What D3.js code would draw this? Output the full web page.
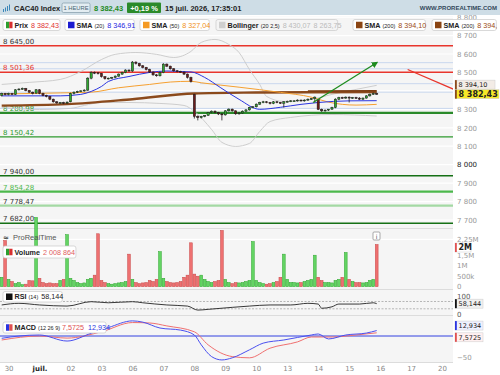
<!DOCTYPE html>
<html>
<head>
<meta charset="utf-8">
<script src="https://cdn.jsdelivr.net/npm/d3@7"></script>
<style>
body { margin: 0; background: #fff; }
svg { display: block; font-family: "DejaVu Sans", sans-serif; }
.hdr, .lg { font-family: "Liberation Sans", Arial, sans-serif; }
</style>
</head>
<body>
<div id="chart"></div>
<script>
// ---- data ----
// hourly bars, 9 a day; index 0-1 = 29 juin, then 30 juin .. 15 juil.
var opens = [8376, 8386,
  8380, 8386, 8381, 8406, 8410, 8413, 8402, 8393, 8388,
  8406, 8386, 8375, 8370, 8355, 8341, 8335, 8337, 8334,
  8341, 8386, 8393, 8397, 8400, 8404, 8469, 8500, 8498,
  8495, 8477, 8466, 8469, 8473, 8480, 8491, 8500, 8513,
  8508, 8556, 8549, 8536, 8527, 8516, 8502, 8487, 8482,
  8500, 8545, 8534, 8520, 8509, 8505, 8502, 8491, 8473,
  8380, 8262, 8255, 8262, 8268, 8283, 8290, 8282, 8275,
  8270, 8292, 8301, 8292, 8276, 8280, 8290, 8297, 8310,
  8314, 8328, 8337, 8341, 8337, 8332, 8341, 8337, 8333,
  8341, 8343, 8346, 8346, 8350, 8346, 8350, 8355, 8358,
  8352, 8300, 8292, 8296, 8301, 8310, 8355, 8364, 8361,
  8366, 8361, 8364, 8361, 8355, 8361, 8373, 8382, 8386];
var highs = [8390, 8389,
  8390, 8389, 8409, 8414, 8418, 8416, 8405, 8396, 8410,
  8409, 8390, 8379, 8373, 8358, 8344, 8340, 8341, 8343,
  8390, 8397, 8401, 8404, 8409, 8474, 8506, 8505, 8502,
  8497, 8480, 8472, 8476, 8484, 8495, 8504, 8517, 8516,
  8562, 8560, 8552, 8540, 8530, 8520, 8505, 8491, 8504,
  8550, 8549, 8537, 8523, 8513, 8509, 8505, 8494, 8477,
  8384, 8267, 8265, 8269, 8286, 8294, 8294, 8286, 8279,
  8296, 8305, 8304, 8294, 8284, 8294, 8301, 8314, 8318,
  8332, 8341, 8346, 8345, 8340, 8345, 8345, 8340, 8345,
  8347, 8350, 8350, 8354, 8353, 8354, 8359, 8362, 8370,
  8356, 8304, 8299, 8300, 8314, 8360, 8368, 8368, 8370,
  8370, 8367, 8368, 8366, 8364, 8377, 8386, 8391, 8390];
var lows = [8370, 8376,
  8376, 8377, 8378, 8402, 8406, 8398, 8389, 8381, 8384,
  8382, 8371, 8365, 8350, 8336, 8330, 8331, 8328, 8330,
  8338, 8381, 8389, 8393, 8396, 8400, 8463, 8491, 8489,
  8472, 8461, 8462, 8465, 8469, 8476, 8487, 8496, 8503,
  8503, 8543, 8531, 8522, 8511, 8497, 8482, 8477, 8478,
  8496, 8529, 8515, 8504, 8500, 8497, 8486, 8467, 8445,
  8250, 8240, 8250, 8257, 8264, 8279, 8278, 8269, 8240,
  8266, 8288, 8287, 8270, 8271, 8276, 8286, 8293, 8306,
  8310, 8324, 8333, 8333, 8327, 8328, 8333, 8329, 8310,
  8337, 8339, 8342, 8342, 8342, 8342, 8346, 8351, 8337,
  8296, 8286, 8287, 8291, 8297, 8306, 8350, 8357, 8357,
  8337, 8357, 8356, 8351, 8351, 8358, 8369, 8378, 8379];
var closes = [8386, 8380,
  8386, 8381, 8406, 8410, 8413, 8402, 8393, 8386, 8406,
  8386, 8375, 8370, 8355, 8341, 8335, 8337, 8334, 8339,
  8386, 8393, 8397, 8400, 8404, 8469, 8500, 8498, 8495,
  8477, 8466, 8469, 8473, 8480, 8491, 8500, 8513, 8508,
  8556, 8549, 8536, 8527, 8516, 8502, 8487, 8482, 8500,
  8545, 8534, 8520, 8509, 8505, 8502, 8491, 8473, 8451,
  8262, 8255, 8262, 8268, 8283, 8290, 8282, 8275, 8270,
  8292, 8301, 8292, 8276, 8280, 8290, 8297, 8310, 8314,
  8328, 8337, 8341, 8337, 8332, 8341, 8337, 8333, 8341,
  8343, 8346, 8346, 8350, 8346, 8350, 8355, 8358, 8366,
  8300, 8292, 8296, 8301, 8310, 8355, 8364, 8361, 8366,
  8361, 8364, 8361, 8355, 8361, 8373, 8382, 8386, 8382.43];
// volume in millions
var volumes = [0.45, 2.2,
  0.35, 0.25, 0.15, 0.2, 0.1, 0.12, 0.3, 0.28, 3.3,
  0.4, 0.2, 0.15, 0.18, 0.15, 0.15, 0.3, 0.35, 2.48,
  0.4, 0.3, 0.2, 0.15, 0.18, 0.35, 0.4, 0.55, 2.52,
  0.3, 0.2, 0.15, 0.12, 0.15, 0.18, 0.2, 0.25, 1.55,
  0.35, 0.2, 0.15, 0.18, 0.2, 0.3, 0.25, 0.35, 1.67,
  0.4, 0.25, 0.2, 0.18, 0.2, 0.25, 0.45, 0.55, 2.09,
  0.6, 0.5, 0.55, 0.35, 0.25, 0.2, 0.25, 0.3, 2.68,
  0.35, 0.2, 0.15, 0.2, 0.18, 0.2, 0.25, 0.3, 2.15,
  0.3, 0.2, 0.15, 0.12, 0.15, 0.2, 0.25, 0.45, 1.55,
  0.35, 0.2, 0.2, 0.18, 0.2, 0.25, 0.3, 0.35, 1.5,
  0.45, 0.3, 0.2, 0.2, 0.18, 0.3, 0.35, 0.45, 1.63,
  0.35, 0.25, 0.2, 0.2, 0.18, 0.2, 0.3, 0.35, 2.008864];

// indicator lines as [bar index, value] points
var sma20 = [[0,8373],[17,8373],[23,8381],[26,8397],[29,8424],[31,8451],[37,8478],[43,8500],[48,8508],[52,8505],[55,8503],[59,8473],[63.5,8419],[69,8354],[75,8300],[81,8311],[87,8327],[92,8337],[101,8346],[109,8346.91]];
var sma50 = [[0,8383],[17,8389],[26,8393],[34,8417],[43,8435],[49,8448],[55,8452],[58,8444],[69,8420],[81,8392],[90,8366],[95,8339],[103,8323],[109,8327.04]];
var sma200 = [[0,8320],[19,8328],[38,8355],[56,8386],[74,8391],[89,8393],[109,8394.1]];
var sma200b = [[89,8399],[109,8401]];
var bollUp = [[0,8435],[8,8446],[17,8462],[23,8505],[29,8570],[33,8598],[39,8608],[45,8598],[50,8581],[55,8614],[58,8663],[62,8679],[66,8652],[69,8608],[72,8516],[75,8435],[77,8370],[82,8343],[90,8354],[96,8381],[103,8408],[109,8430.07]];
var bollLo = [[0,8310],[11,8299],[20,8305],[24,8321],[29,8337],[37,8337],[46,8332],[53,8321],[56,8289],[61,8191],[64,8121],[68,8099],[72,8115],[75,8180],[78,8234],[84,8256],[96,8272],[109,8263.75]];
var rsi = [[0,51],[5,60],[11,51],[19,45],[26,69],[31,63],[38,69],[41,63],[48,51],[54,45],[57,23],[60,27],[67,38],[72,45],[78,51],[84,51],[89,60],[92,56],[93,33],[96,41],[98,56],[104,56],[108,63],[109,58.144]];
var macd = [[0,-5.5],[5,0],[11,2.4],[19,-12],[26,6.5],[31,20],[38,36],[41,33],[46,19],[52,14],[56,2.4],[58,-21],[61,-49],[64,-57],[67,-52],[72,-33],[76,-17],[82,-9.5],[90,2.4],[92,4.8],[95,-7],[100,2.4],[106,7],[109,12.934]];
var signal = [[0,-9.5],[11,0],[19,-5],[29,10],[38,32],[43,31],[48,24],[56,10],[60,-21],[67,-49],[72,-52],[78,-29],[86,-14],[90,-2.4],[96,-2.4],[103,2.4],[109,7.5725]];

// horizontal levels drawn on the chart
var levelValues = [8810, 8645, 8501.36, 8280.98, 8150.42, 7940, 7854.28, 7778.47, 7682];
var levelColors = ["#e8352c", "#e8352c", "#e8352c", "#2a8a2a", "#2e9a2e", "#157015", "#4cb84c", "#a3d9a3", "#157015"];
var levelLabelColors = [null, "#333", "#e8352c", "#2e9a2e", "#2e9a2e", "#333", "#4cb84c", "#333", "#333"];
var paleLevels = [8553, 8520, 8439, 8393, 8305];
var greenArrow = [[90.5, 8337], [109.1, 8554]];
var redLine = [[118, 8516], [135, 8380]];

var dayStart = [2, 11, 20, 29, 38, 47, 56, 65, 74, 83, 92, 101, 110, 119, 128];
var dayLabels = ["30", "juil.", "02", "03", "06", "07", "08", "09", "10", "13", "14", "15", "16", "17", "20"];
var priceTicks = [7700, 7800, 7900, 8000, 8100, 8200, 8300, 8500, 8600, 8700, 8800];
var volTicks = [0, 500000, 1000000, 1500000, 2250000];
var volTickLabels = ["0", "500k", "1M", "1,5M", "2,25M"];

// ---- setup ----
var W = 500, H = 375, plotR = 453;
var loc = d3.formatLocale({decimal: ",", thousands: "\u00a0", grouping: [3], currency: ["", ""]});
var fInt = loc.format(","), f2 = loc.format(",.2f");

var x = d3.scaleLinear().domain([0, 109]).range([1.7, 376.7]);
var yP = d3.scaleLinear().domain([7700, 8600]).range([220, 54]);
var yV = d3.scaleLinear().domain([0, 2000000]).range([286.7, 244.7]);
var yR = d3.scaleLinear().domain([0, 100]).range([314.3, 296]);
var yM = d3.scaleLinear().domain([-50, 0]).range([357, 336]);

var bars = closes.map(function(c, i) {
  return {i: i, o: opens[i], h: highs[i], l: lows[i], c: c, v: volumes[i] * 1e6, up: c >= opens[i]};
});

var svg = d3.select("#chart").append("svg").attr("width", W).attr("height", H);
var defs = svg.append("defs");
defs.append("clipPath").attr("id", "cpPrice").append("rect").attr("x", 0).attr("y", 16).attr("width", plotR).attr("height", 212);
defs.append("clipPath").attr("id", "cpPlot").append("rect").attr("x", 0).attr("y", 0).attr("width", plotR).attr("height", 362);
defs.append("clipPath").attr("id", "cpAll").append("rect").attr("x", 0).attr("y", 0).attr("width", W).attr("height", H);
defs.append("marker").attr("id", "arrowG").attr("viewBox", "0 0 10 10").attr("refX", 8).attr("refY", 5)
  .attr("markerWidth", 5).attr("markerHeight", 5).attr("orient", "auto")
  .append("path").attr("d", "M0,0L10,5L0,10z").attr("fill", "#1e8c1e");

// panel backgrounds
var panels = [[16, 228], [229, 289], [290, 315], [316, 362]];
svg.selectAll(".pbg").data(panels).enter().append("rect")
  .attr("x", 0).attr("y", function(d) { return d[0]; })
  .attr("width", plotR).attr("height", function(d) { return d[1] - d[0]; })
  .attr("fill", "#f5f5f5");
svg.selectAll(".psep").data([228.5, 289.5, 315.5, 362.5]).enter().append("line")
  .attr("x1", 0).attr("x2", plotR).attr("y1", function(d) { return d; }).attr("y2", function(d) { return d; })
  .attr("stroke", "#dcdcdc").attr("stroke-width", 1);

// white grid lines
var grid = svg.append("g").attr("clip-path", "url(#cpPrice)");
grid.selectAll("line").data(priceTicks.concat([8400])).enter().append("line")
  .attr("x1", 0).attr("x2", plotR)
  .attr("y1", function(d) { return yP(d); }).attr("y2", function(d) { return yP(d); })
  .attr("stroke", "#fff").attr("stroke-width", 1.2);
svg.append("line").attr("x1", 0).attr("x2", plotR).attr("y1", yV(2250000)).attr("y2", yV(2250000))
  .attr("stroke", "#fff").attr("stroke-width", 1.2);

// ---- price panel ----
var price = svg.append("g").attr("clip-path", "url(#cpPrice)");

price.selectAll(".pale").data(paleLevels).enter().append("line")
  .attr("x1", function(d) { return d === 8439 ? 200 : 0; }).attr("x2", plotR)
  .attr("y1", function(d) { return yP(d); }).attr("y2", function(d) { return yP(d); })
  .attr("stroke", "#c9d7ee").attr("stroke-width", 1);

price.selectAll(".lvl").data(levelValues).enter().append("line")
  .attr("x1", 0).attr("x2", plotR)
  .attr("y1", function(d) { return yP(d); }).attr("y2", function(d) { return yP(d); })
  .attr("stroke", function(d, i) { return levelColors[i]; })
  .attr("stroke-width", function(d, i) { return (i === 3 || i === 6 || i === 7) ? 2.2 : 1.4; });

price.selectAll(".lvlt").data(levelValues).enter().filter(function(d, i) { return levelLabelColors[i]; })
  .append("text")
  .attr("x", 3).attr("y", function(d) { return yP(d) - 2; })
  .attr("font-size", 7).attr("fill", function(d) { return levelLabelColors[levelValues.indexOf(d)]; })
  .text(function(d) { return f2(d); });

var line = d3.line().x(function(d) { return x(d[0]); }).y(function(d) { return yP(d[1]); }).curve(d3.curveMonotoneX);

price.append("path").attr("d", line(bollUp)).attr("fill", "none").attr("stroke", "#c8c8c8").attr("stroke-width", 0.9);
price.append("path").attr("d", line(bollLo)).attr("fill", "none").attr("stroke", "#c8c8c8").attr("stroke-width", 0.9);
price.append("path").attr("d", line(sma200)).attr("fill", "none").attr("stroke", "#8b4a1c").attr("stroke-width", 2.4);
price.append("path").attr("d", line(sma200b)).attr("fill", "none").attr("stroke", "#7a3c12").attr("stroke-width", 1.6);
price.append("path").attr("d", line(sma50)).attr("fill", "none").attr("stroke", "#f5a030").attr("stroke-width", 1);
price.append("path").attr("d", line(sma20)).attr("fill", "none").attr("stroke", "#2b35e0").attr("stroke-width", 1);

// candles
var cg = price.selectAll(".candle").data(bars).enter().append("g");
cg.append("line")
  .attr("x1", function(d) { return x(d.i); }).attr("x2", function(d) { return x(d.i); })
  .attr("y1", function(d) { return yP(d.h); }).attr("y2", function(d) { return yP(d.l); })
  .attr("stroke", "#1a1a1a").attr("stroke-width", 0.8);
cg.append("rect")
  .attr("x", function(d) { return x(d.i) - 1.1; }).attr("width", 2.2)
  .attr("y", function(d) { return yP(Math.max(d.o, d.c)); })
  .attr("height", function(d) { return Math.max(0.8, Math.abs(yP(d.o) - yP(d.c))); })
  .attr("fill", function(d) { return d.up ? "#30a830" : "#6a1c1c"; })
  .attr("stroke", "#1a1a1a").attr("stroke-width", 0.5);

// drawings
var dline = d3.line().x(function(d) { return x(d[0]); }).y(function(d) { return yP(d[1]); });
price.append("path").attr("d", dline(greenArrow)).attr("stroke", "#1e8c1e").attr("stroke-width", 1.3)
  .attr("fill", "none").attr("marker-end", "url(#arrowG)");
price.append("path").attr("d", dline(redLine))
  .attr("stroke", "#e8352c").attr("stroke-width", 1.3).attr("fill", "none");

// ---- volume ----
var vol = svg.append("g");
vol.selectAll("rect").data(bars).enter().append("rect")
  .attr("x", function(d) { return x(d.i) - 1.4; }).attr("width", 2.8)
  .attr("y", function(d) { return yV(d.v); })
  .attr("height", function(d) { return yV(0) - yV(d.v); })
  .attr("fill", function(d) { return d.up ? "#63d463" : "#ee7070"; })
  .attr("stroke", function(d) { return d.up ? "#2ea52e" : "#c84848"; }).attr("stroke-width", 0.5);

// ---- RSI ----
var rsiG = svg.append("g");
rsiG.selectAll("line").data([70, 30]).enter().append("line")
  .attr("x1", 0).attr("x2", plotR).attr("y1", function(d) { return yR(d); }).attr("y2", function(d) { return yR(d); })
  .attr("stroke", "#999").attr("stroke-dasharray", "2,1.5").attr("stroke-width", 0.7);
rsiG.append("path")
  .attr("d", d3.line().x(function(d) { return x(d[0]); }).y(function(d) { return yR(d[1]); }).curve(d3.curveMonotoneX)(rsi))
  .attr("fill", "none").attr("stroke", "#222").attr("stroke-width", 0.9);

// ---- MACD ----
var macdG = svg.append("g").attr("clip-path", "url(#cpPlot)");
macdG.append("line").attr("x1", 0).attr("x2", plotR).attr("y1", yM(0)).attr("y2", yM(0))
  .attr("stroke", "#3340e0").attr("stroke-width", 1);
var mline = d3.line().x(function(d) { return x(d[0]); }).y(function(d) { return yM(d[1]); }).curve(d3.curveMonotoneX);
macdG.append("path").attr("d", mline(signal)).attr("fill", "none").attr("stroke", "#f07070").attr("stroke-width", 1);
macdG.append("path").attr("d", mline(macd)).attr("fill", "none").attr("stroke", "#4a50f0").attr("stroke-width", 1);

// ---- axes ----
svg.append("rect").attr("x", plotR).attr("y", 16).attr("width", W - plotR).attr("height", 346).attr("fill", "#fff");

var yAxis = d3.axisRight(yP).tickValues(priceTicks).tickSize(0).tickPadding(4).tickFormat(fInt);
var ya = svg.append("g").attr("transform", "translate(" + plotR + ",0)").call(yAxis);
ya.select(".domain").remove();
ya.selectAll("text").attr("font-size", 7).attr("font-family", "DejaVu Sans")
  .attr("fill", function(d) { return d === 8000 ? "#222" : "#999"; });

var va = svg.append("g").attr("transform", "translate(" + plotR + ",0)")
  .call(d3.axisRight(yV).tickValues(volTicks).tickSize(0).tickPadding(4)
    .tickFormat(function(d, i) { return volTickLabels[i]; }));
va.select(".domain").remove();
va.selectAll("text").attr("font-size", 7).attr("font-family", "DejaVu Sans").attr("fill", "#999");

var ra = svg.append("g").attr("transform", "translate(" + plotR + ",0)")
  .call(d3.axisRight(yR).tickValues([0, 100]).tickSize(0).tickPadding(4));
ra.select(".domain").remove();
ra.selectAll("text").attr("font-size", 7).attr("font-family", "DejaVu Sans").attr("fill", "#555");

var ma = svg.append("g").attr("transform", "translate(" + plotR + ",0)")
  .call(d3.axisRight(yM).tickValues([-50]).tickSize(0).tickPadding(4).tickFormat(function(d) { return "\u221250"; }));
ma.select(".domain").remove();
ma.selectAll("text").attr("font-size", 7).attr("font-family", "DejaVu Sans").attr("fill", "#999");

var xa = svg.append("g").attr("transform", "translate(0,362)")
  .call(d3.axisBottom(x).tickValues(dayStart).tickSize(0).tickPadding(4)
    .tickFormat(function(d, i) { return dayLabels[i]; }));
xa.select(".domain").remove();
xa.selectAll("text").attr("font-size", 7).attr("font-family", "DejaVu Sans")
  .attr("fill", function(d, i) { return i === 1 ? "#222" : "#888"; })
  .attr("font-weight", function(d, i) { return i === 1 ? "bold" : "normal"; });

// value boxes on the right axis
function valueBox(yc, txt, mark, fill, bold, w) {
  var g = svg.append("g");
  g.append("rect").attr("x", plotR + 2).attr("y", yc - 4.5).attr("width", w).attr("height", 9)
    .attr("fill", fill).attr("stroke", "#ccc").attr("stroke-width", 0.5);
  g.append("rect").attr("x", plotR + 2).attr("y", yc - 4.5).attr("width", 1.8).attr("height", 9).attr("fill", mark);
  g.append("text").attr("x", plotR + 5.5).attr("y", yc + 2.6).attr("font-size", bold ? 8 : 6.5)
    .attr("font-weight", bold ? "bold" : "normal").attr("fill", "#222").text(txt);
}
var lastY = yP(closes[closes.length - 1]);
valueBox(lastY - 9.5, f2(8394.10), "#8b4a1c", "#f3ece6", false, 40);
valueBox(lastY, f2(closes[closes.length - 1]), "#8b4a1c", "#f7e928", true, 44);
valueBox(yV(2008864) + 3, "2M", "#e05050", "#fff", true, 16);
valueBox(yR(58.144), "58,144", "#111", "#f0f0f0", false, 28);
valueBox(yM(12.934) - 5, "12,934", "#2a35e0", "#eef0ff", false, 28);
valueBox(yM(7.5725) + 4.5, "7,5725", "#e05050", "#fff0f0", false, 28);

// ---- legends ----
function pill(x0, y0, h, icon, parts, fill) {
  var g = svg.append("g").attr("class", "lg").attr("clip-path", "url(#cpAll)");
  var r = g.append("rect").attr("x", x0).attr("y", y0).attr("height", h).attr("rx", 2)
    .attr("fill", fill || "#fff").attr("stroke", "#c8c8c8").attr("stroke-width", 0.7);
  var s = 6.5, iy = y0 + (h - s) / 2;
  icon.forEach(function(c, j) {
    g.append("rect").attr("x", x0 + 3 + j * s / icon.length).attr("y", iy)
      .attr("width", s / icon.length).attr("height", s).attr("fill", c);
  });
  var t = g.append("text").attr("x", x0 + 11.5).attr("y", y0 + h - 2.6).attr("font-size", 7.2);
  parts.forEach(function(p) {
    t.append("tspan").attr("fill", p.c || "#222").attr("font-weight", p.b ? "bold" : "normal")
      .attr("font-size", p.s || 7.2).attr("dx", p.dx || 0).text(p.t);
  });
  r.attr("width", 11.5 + t.node().getComputedTextLength() + 4);
  return g;
}
pill(3, 19.5, 11, ["#2e9e2e", "#d83030"], [{t: "Prix", b: 1}, {t: "8\u00a0382,43", c: "#e03030", dx: 3}]);
pill(65, 19.5, 11, ["#1c1cd0"], [{t: "SMA", b: 1}, {t: "(20)", s: 5.5, dx: 2}, {t: "8\u00a0346,91", c: "#2424e0", dx: 3}]);
pill(140, 19.5, 11, ["#f59a23"], [{t: "SMA", b: 1}, {t: "(50)", s: 5.5, dx: 2}, {t: "8\u00a0327,04", c: "#f0901a", dx: 3}]);
pill(216, 19.5, 11, ["#cfcfcf"], [{t: "Bollinger", b: 1}, {t: "(20 2,5)", s: 5.5, dx: 2}, {t: "8\u00a0430,07", c: "#bbb", dx: 3}, {t: "8\u00a0263,75", c: "#bbb", dx: 3}], "#f4f4f4");
pill(353, 19.5, 11, ["#8b4513"], [{t: "SMA", b: 1}, {t: "(200)", s: 5.5, dx: 2}, {t: "8\u00a0394,10", c: "#9a4a14", dx: 3}]);
pill(432, 19.5, 11, ["#8b4513"], [{t: "SMA", b: 1}, {t: "(200)", s: 5.5, dx: 2}, {t: "8\u00a0394,", c: "#9a4a14", dx: 3}]);

svg.append("text").attr("x", 3).attr("y", 240).attr("font-size", 7).attr("fill", "#444").attr("font-weight", "bold").text("\u2248");
svg.append("text").attr("class", "lg").attr("x", 13).attr("y", 240).attr("font-size", 7.5).attr("fill", "#555").text("ProRealTime");
pill(3, 246, 12, ["#2e9e2e", "#d83030"], [{t: "Volume", b: 1}, {t: "2\u00a0008\u00a0864", c: "#e06060", dx: 3}]);
pill(3, 291.5, 10.5, ["#111"], [{t: "RSI", b: 1}, {t: "(14)", s: 5.5, dx: 2}, {t: "58,144", dx: 3}]);
pill(3, 322, 11, ["#2a35e0", "#e05050"], [{t: "MACD", b: 1}, {t: "(12 26 9)", s: 5.5, dx: 2}, {t: "7,5725", c: "#e05050", dx: 2}, {t: "12,934", c: "#2a35e0", dx: 4}]);
svg.append("rect").attr("x", 373).attr("y", 232).attr("width", 7).attr("height", 8).attr("rx", 1)
  .attr("fill", "#fff").attr("stroke", "#888").attr("stroke-width", 0.7);
svg.append("text").attr("x", 376.5).attr("y", 238.6).attr("text-anchor", "middle").attr("font-size", 6).attr("fill", "#555").text("i");

// ---- header ----
var hd = svg.append("g").attr("class", "hdr");
hd.append("rect").attr("x", 0).attr("y", 0).attr("width", W).attr("height", 15).attr("fill", "#cedde6");
[3, 5, 7, 9].forEach(function(bx, j) {
  hd.append("rect").attr("x", bx).attr("y", 9 - j * 1.5).attr("width", 1).attr("height", 3 + j).attr("fill", "#3a86b8");
});
hd.append("text").attr("x", 14).attr("y", 10.5).attr("font-size", 7.5).attr("font-weight", "bold").attr("fill", "#222").text("CAC40 Index");
hd.append("rect").attr("x", 62).attr("y", 3).attr("width", 28).attr("height", 9.5).attr("rx", 1.5)
  .attr("fill", "#e3edf2").attr("stroke", "#7f9aa8").attr("stroke-width", 0.7);
hd.append("text").attr("x", 76).attr("y", 10).attr("text-anchor", "middle").attr("font-size", 5.8).attr("fill", "#4a6472").text("1 HEURE");
hd.append("text").attr("x", 94).attr("y", 10.5).attr("font-size", 7.5).attr("font-weight", "bold").attr("fill", "#1e8a1e").text("8\u00a0382,43");
hd.append("rect").attr("x", 127).attr("y", 2.5).attr("width", 34).attr("height", 10.5).attr("rx", 1).attr("fill", "#2a8a2a");
hd.append("text").attr("x", 144).attr("y", 10.5).attr("text-anchor", "middle").attr("font-size", 7.5).attr("font-weight", "bold").attr("fill", "#fff").text("+0,19 %");
hd.append("text").attr("x", 165).attr("y", 10.5).attr("font-size", 7.5).attr("font-weight", "bold").attr("fill", "#222").text("15 juil. 2026, 17:35:01");
hd.append("text").attr("x", 497).attr("y", 10).attr("text-anchor", "end").attr("font-size", 6).attr("font-weight", "bold").attr("fill", "#33485a").text("WWW.PROREALTIME.COM");
</script>
</body>
</html>
